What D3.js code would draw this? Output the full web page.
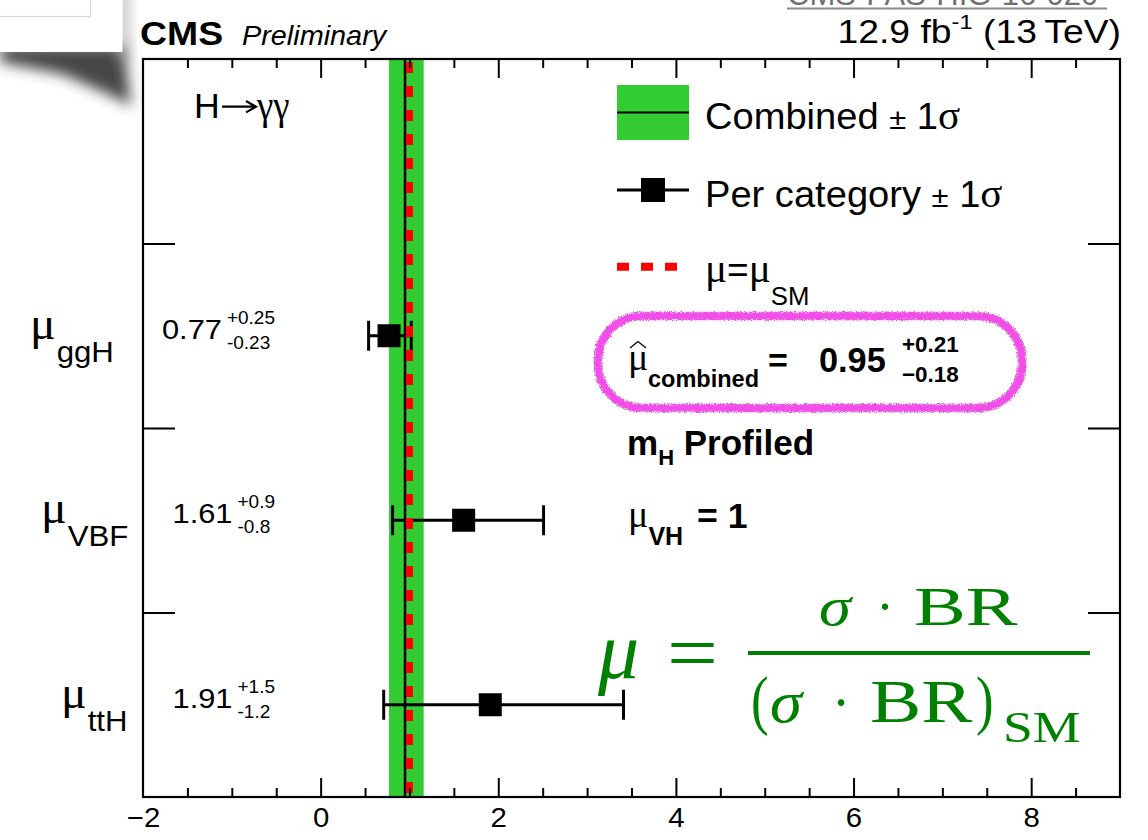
<!DOCTYPE html>
<html>
<head>
<meta charset="utf-8">
<script src="https://cdn.jsdelivr.net/npm/d3@7"></script>
<style>
  body { margin: 0; background: #fff; }
  svg { display: block; }
</style>
</head>
<body>
<script>
// ---- signal strength per production mode, H -> gamma gamma ----
const categories = ["ggH", "VBF", "ttH"];
const muValues   = [0.77, 1.61, 1.91];
const errUp      = [0.25, 0.9, 1.5];
const errDown    = [0.23, 0.8, 1.2];

// combined fit
const combinedMu   = 0.95;
const combinedUp   = 0.21;
const combinedDown = 0.18;
const smMu = 1;

// axes
const xDomain     = [-2, 9];
const xMajorTicks = [-2, 0, 2, 4, 6, 8];
const rowEdges    = [1, 2, 3];

// ---- layout ----
const W = 1148, H = 840;
const SANS  = "'Liberation Sans', Arial, Helvetica, sans-serif";
const SERIF = "'Liberation Serif', 'Times New Roman', serif";
const GREEN = "#33cc33";
const frame = { left: 143, right: 1120, top: 59, bottom: 797 };
const labelLeft = [30, 41, 61];       // x where each row label starts
const valueRight = 275;               // right edge of the value labels

const svg = d3.select("body").append("svg")
  .attr("width", W).attr("height", H)
  .attr("viewBox", `0 0 ${W} ${H}`);

const defs = svg.append("defs");
defs.append("filter").attr("id", "soft")
  .attr("x", "-50%").attr("y", "-50%").attr("width", "200%").attr("height", "200%")
  .append("feGaussianBlur").attr("stdDeviation", 7);

// hand-drawn, chalky stroke: roughened edge plus sparse grain
const chalk = defs.append("filter").attr("id", "chalk")
  .attr("x", "-5%").attr("y", "-20%").attr("width", "110%").attr("height", "140%");
chalk.append("feTurbulence").attr("type", "fractalNoise").attr("baseFrequency", 0.9)
  .attr("numOctaves", 2).attr("seed", 4).attr("result", "n");
chalk.append("feDisplacementMap").attr("in", "SourceGraphic").attr("in2", "n")
  .attr("scale", 5).attr("xChannelSelector", "R").attr("yChannelSelector", "G")
  .attr("result", "d");
chalk.append("feTurbulence").attr("type", "fractalNoise").attr("baseFrequency", 1.4)
  .attr("numOctaves", 1).attr("seed", 9).attr("result", "g");
chalk.append("feColorMatrix").attr("in", "g").attr("type", "matrix")
  .attr("values", "0 0 0 0 0  0 0 0 0 0  0 0 0 0 0  0 0 0 -6 4.4").attr("result", "m");
chalk.append("feComposite").attr("in", "d").attr("in2", "m").attr("operator", "in");

svg.append("rect").attr("width", W).attr("height", H).attr("fill", "#fff");

const x = d3.scaleLinear().domain(xDomain).range([frame.left, frame.right]);
const y = d3.scaleLinear().domain([0, categories.length + 1]).range([frame.bottom, frame.top]);
const rowY = i => y(categories.length - i - 0.5);

// rich text: list of parts {t, s, f, w, i, dy, dx}; sx stretches horizontally about the anchor
function rich(g, px, py, parts, opts = {}) {
  const sx = opts.sx || 1;
  const holder = g.append("g").attr("transform", `translate(${px},${py}) scale(${sx},1)`);
  const t = holder.append("text")
    .attr("x", 0).attr("y", 0)
    .attr("text-anchor", opts.anchor || "start")
    .attr("fill", opts.fill || "#000");
  parts.forEach(p => {
    const s = t.append("tspan").text(p.t)
      .attr("font-family", p.f || SANS)
      .attr("font-size", p.s)
      .attr("font-weight", p.w || "normal")
      .attr("font-style", p.i ? "italic" : "normal");
    if (p.dy) s.attr("dy", p.dy);
    if (p.dx) s.attr("dx", p.dx);
  });
  return t;
}

// ---- slide furniture in the upper left ----
const corner = svg.append("g");
corner.append("path")
  .attr("d", "M0,46 L124,46 L131,106 L110,95 L62,74 L0,62 Z")
  .attr("fill", "#333").attr("opacity", 0.9).attr("filter", "url(#soft)");
corner.append("rect").attr("x", 116).attr("y", -10).attr("width", 14).attr("height", 70)
  .attr("fill", "#9a9a9a").attr("opacity", 0.55).attr("filter", "url(#soft)");
corner.append("rect").attr("x", -2).attr("y", -2).attr("width", 124.5).attr("height", 54).attr("fill", "#fff");
corner.append("rect").attr("x", -2).attr("y", -2).attr("width", 92.5).attr("height", 18.5)
  .attr("fill", "#fff").attr("stroke", "#d6d6d6").attr("stroke-width", 1.2);

// document reference, mostly above the visible area
svg.append("text").attr("x", 787).attr("y", 5)
  .attr("font-family", SANS).attr("font-size", 31).attr("fill", "#707070")
  .text("CMS-PAS-HIG-16-020");
svg.append("line").attr("x1", 787).attr("x2", 1107).attr("y1", 8.5).attr("y2", 8.5)
  .attr("stroke", "#8a8a8a").attr("stroke-width", 2);

// ---- header ----
rich(svg, 140, 45, [{ t: "CMS", s: 34, w: "bold" }], { sx: 1.1 });
rich(svg, 242, 45, [{ t: "Preliminary", s: 28, i: true }], { sx: 1.03 });
rich(svg, 1121, 43, [
  { t: "12.9 fb", s: 33 },
  { t: "-1", s: 21, dy: -14 },
  { t: " (13\u2009TeV)", s: 33, dy: 14 }
], { anchor: "end", sx: 1.13 });

// ---- plot body ----
const plot = svg.append("g");

// combined +-1 sigma band and central value
plot.append("rect")
  .attr("x", x(combinedMu - combinedDown)).attr("y", frame.top)
  .attr("width", x(combinedMu + combinedUp) - x(combinedMu - combinedDown))
  .attr("height", frame.bottom - frame.top)
  .attr("fill", GREEN);
plot.append("line")
  .attr("x1", x(combinedMu)).attr("x2", x(combinedMu))
  .attr("y1", frame.top).attr("y2", frame.bottom)
  .attr("stroke", "#000").attr("stroke-width", 2.5);

// per-category error bars and markers
const rows = plot.selectAll("g.row").data(categories).join("g").attr("class", "row");
rows.append("line")
  .attr("x1", (d, i) => x(muValues[i] - errDown[i]))
  .attr("x2", (d, i) => x(muValues[i] + errUp[i]))
  .attr("y1", (d, i) => rowY(i)).attr("y2", (d, i) => rowY(i))
  .attr("stroke", "#000").attr("stroke-width", 3);
[-1, 1].forEach(side => {
  rows.append("line")
    .attr("x1", (d, i) => x(side < 0 ? muValues[i] - errDown[i] : muValues[i] + errUp[i]))
    .attr("x2", (d, i) => x(side < 0 ? muValues[i] - errDown[i] : muValues[i] + errUp[i]))
    .attr("y1", (d, i) => rowY(i) - 15).attr("y2", (d, i) => rowY(i) + 15)
    .attr("stroke", "#000").attr("stroke-width", 3);
});
rows.append("rect")
  .attr("x", (d, i) => x(muValues[i]) - 11.5)
  .attr("y", (d, i) => rowY(i) - 11.5)
  .attr("width", 23).attr("height", 23)
  .attr("fill", "#000");

// SM expectation
plot.append("line")
  .attr("x1", x(smMu)).attr("x2", x(smMu))
  .attr("y1", frame.top).attr("y2", frame.bottom)
  .attr("stroke", "#ff0000").attr("stroke-width", 7)
  .attr("stroke-dasharray", "11,13").attr("stroke-dashoffset", 21);

// ---- axes ----
const minorTicks = x.ticks(22).filter(v => v > xDomain[0] && v < xDomain[1] && !xMajorTicks.includes(v));
const majorInner = xMajorTicks.filter(v => v > xDomain[0]);

function styleAxis(g) {
  g.select(".domain").remove();
  g.selectAll(".tick line").attr("stroke", "#000").attr("stroke-width", 2);
}
svg.append("g").attr("transform", `translate(0,${frame.bottom})`)
  .call(d3.axisBottom(x).tickValues(minorTicks).tickSize(-9).tickFormat(""))
  .call(styleAxis);
svg.append("g").attr("transform", `translate(0,${frame.bottom})`)
  .call(d3.axisBottom(x).tickValues(majorInner).tickSize(-19).tickFormat(""))
  .call(styleAxis);
svg.append("g").attr("transform", `translate(0,${frame.top})`)
  .call(d3.axisTop(x).tickValues(minorTicks).tickSize(-9).tickFormat(""))
  .call(styleAxis);
svg.append("g").attr("transform", `translate(0,${frame.top})`)
  .call(d3.axisTop(x).tickValues(majorInner).tickSize(-19).tickFormat(""))
  .call(styleAxis);

// x tick labels
const xLab = svg.append("g").attr("transform", `translate(0,${frame.bottom})`)
  .call(d3.axisBottom(x).tickValues(xMajorTicks).tickSize(0).tickPadding(10).tickFormat(d3.format("d")));
xLab.select(".domain").remove();
xLab.selectAll(".tick text")
  .attr("font-family", SANS).attr("font-size", 28).attr("fill", "#000")
  .attr("transform", "scale(1.05,1)");

svg.append("g").attr("transform", `translate(${frame.left},0)`)
  .call(d3.axisLeft(y).tickValues(rowEdges).tickSize(-32).tickFormat(""))
  .call(styleAxis);
svg.append("g").attr("transform", `translate(${frame.right},0)`)
  .call(d3.axisRight(y).tickValues(rowEdges).tickSize(-32).tickFormat(""))
  .call(styleAxis);

// frame
svg.append("rect")
  .attr("x", frame.left).attr("y", frame.top)
  .attr("width", frame.right - frame.left).attr("height", frame.bottom - frame.top)
  .attr("fill", "none").attr("stroke", "#000").attr("stroke-width", 2.2);

// ---- row labels and values ----
categories.forEach((c, i) => {
  const cy = rowY(i);
  rich(svg, labelLeft[i], cy + 3, [
    { t: "\u03bc", s: 46, f: SERIF },
    { t: c, s: 30, dy: 23, dx: 1 }
  ], { sx: 1.04 });

  const g = svg.append("g");
  const up = rich(g, 0, cy - 12, [{ t: "+" + errUp[i], s: 19 }]);
  const dn = rich(g, 0, cy + 13, [{ t: "-" + errDown[i], s: 19 }]);
  const w = Math.max(up.node().getComputedTextLength(), dn.node().getComputedTextLength());
  const start = valueRight - w;
  up.node().parentNode.setAttribute("transform", `translate(${start},${cy - 12})`);
  dn.node().parentNode.setAttribute("transform", `translate(${start},${cy + 13})`);
  rich(g, start - 5, cy + 3, [{ t: String(muValues[i]), s: 28 }], { anchor: "end", sx: 1.1 });
});

// H -> gamma gamma
rich(svg, 194, 118, [{ t: "H", s: 35 }], { sx: 1.02 });
svg.append("path").attr("d", "M222,106.7 L255,106.7 M246,101 L256,106.7 L246,112.4")
  .attr("fill", "none").attr("stroke", "#000").attr("stroke-width", 2.2);
rich(svg, 257, 119, [{ t: "\u03b3\u03b3", s: 40, f: SERIF }], { sx: 0.92 });

// ---- legend ----
const leg = svg.append("g");
leg.append("rect").attr("x", 617).attr("y", 85).attr("width", 72).attr("height", 55).attr("fill", GREEN);
leg.append("line").attr("x1", 617).attr("x2", 689).attr("y1", 112.5).attr("y2", 112.5)
  .attr("stroke", "#000").attr("stroke-width", 2);
rich(leg, 705, 129, [
  { t: "Combined ", s: 37 }, { t: "\u00b1", s: 30 }, { t: " 1", s: 37 }, { t: "\u03c3", s: 40, f: SERIF }
], { sx: 1.03 });

leg.append("line").attr("x1", 617).attr("x2", 689).attr("y1", 190).attr("y2", 190)
  .attr("stroke", "#000").attr("stroke-width", 3);
leg.append("rect").attr("x", 641).attr("y", 178).attr("width", 24).attr("height", 24).attr("fill", "#000");
rich(leg, 705, 206.5, [
  { t: "Per category ", s: 37 }, { t: "\u00b1", s: 30 }, { t: " 1", s: 37 }, { t: "\u03c3", s: 40, f: SERIF }
], { sx: 1.03 });

leg.append("line").attr("x1", 617).attr("x2", 677).attr("y1", 266.7).attr("y2", 266.7)
  .attr("stroke", "#ff0000").attr("stroke-width", 8).attr("stroke-dasharray", "12,12");
rich(leg, 705, 282, [
  { t: "\u03bc", s: 40, f: SERIF }, { t: "=", s: 36 }, { t: "\u03bc", s: 40, f: SERIF },
  { t: "SM", s: 25, dy: 23 }
], { sx: 1.03 });

// ---- combined result box ----
const box = svg.append("g");
box.append("rect")
  .attr("x", 598).attr("y", 316).attr("width", 424).attr("height", 92)
  .attr("rx", 44).attr("ry", 44)
  .attr("fill", "none").attr("stroke", "#f050e6").attr("stroke-width", 5);
box.append("rect")
  .attr("x", 598).attr("y", 316).attr("width", 424).attr("height", 92)
  .attr("rx", 44).attr("ry", 44)
  .attr("fill", "none").attr("stroke", "#f24ee8").attr("stroke-width", 8.5)
  .attr("filter", "url(#chalk)");

rich(svg, 628, 370, [{ t: "\u03bc", s: 38, f: SERIF }]);
svg.append("path").attr("d", "M630,348 L638,341.5 L646,348")
  .attr("fill", "none").attr("stroke", "#000").attr("stroke-width", 1.3);
rich(svg, 648, 387, [{ t: "combined", s: 24, w: "bold" }], { sx: 0.98 });
rich(svg, 768, 372, [{ t: "=", s: 34, w: "bold" }]);
rich(svg, 819, 371.5, [{ t: String(combinedMu), s: 35, w: "bold" }], { sx: 0.98 });
rich(svg, 902, 351.5, [{ t: "+" + combinedUp, s: 22, w: "bold" }], { sx: 1.02 });
rich(svg, 902, 381.5, [{ t: "\u2212" + combinedDown, s: 22, w: "bold" }], { sx: 1.02 });

rich(svg, 627, 455, [
  { t: "m", s: 35, w: "bold" }, { t: "H", s: 22, w: "bold", dy: 10 },
  { t: " Profiled", s: 35, w: "bold", dy: -10 }
]);
rich(svg, 628, 527, [
  { t: "\u03bc", s: 38, f: SERIF }, { t: "VH", s: 25, w: "bold", dy: 18 }
]);
rich(svg, 697, 528, [{ t: "= 1", s: 35, w: "bold" }], { sx: 1.02 });

// ---- definition of the signal strength ----
const fg = svg.append("g");
const FG = "#008000";
rich(fg, 598, 678, [{ t: "\u03bc", s: 82, f: SERIF, i: true }], { fill: FG });
rich(fg, 667, 680, [{ t: "=", s: 80, f: SERIF }], { fill: FG, sx: 1.13 });
fg.append("line").attr("x1", 748).attr("x2", 1090).attr("y1", 653).attr("y2", 653)
  .attr("stroke", FG).attr("stroke-width", 4);
// numerator
rich(fg, 819, 625, [{ t: "\u03c3", s: 54, f: SERIF, i: true }], { fill: FG, sx: 1.2 });
rich(fg, 885, 625, [{ t: "\u00b7", s: 54, f: SERIF }], { fill: FG, anchor: "middle" });
rich(fg, 914, 625, [{ t: "BR", s: 54, f: SERIF }], { fill: FG, sx: 1.44 });
// denominator
rich(fg, 751, 722, [{ t: "(", s: 66, f: SERIF }], { fill: FG, sx: 0.8 });
rich(fg, 770, 722, [{ t: "\u03c3", s: 60, f: SERIF, i: true }], { fill: FG, sx: 1.08 });
rich(fg, 841, 722, [{ t: "\u00b7", s: 56, f: SERIF }], { fill: FG, anchor: "middle" });
rich(fg, 870, 722, [{ t: "BR", s: 62, f: SERIF }], { fill: FG, sx: 1.24 });
rich(fg, 976, 722, [{ t: ")", s: 66, f: SERIF }], { fill: FG, sx: 0.8 });
rich(fg, 1003, 742, [{ t: "SM", s: 44, f: SERIF }], { fill: FG, sx: 1.22 });
</script>
</body>
</html>
